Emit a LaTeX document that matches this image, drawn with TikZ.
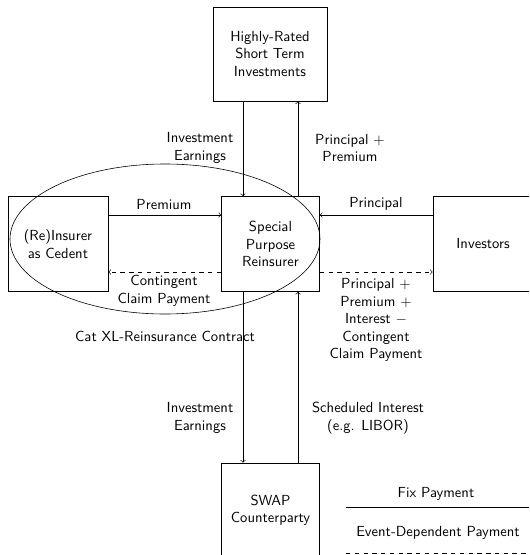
\documentclass[tikz,border=0pt]{standalone}
\usetikzlibrary{shapes.geometric}
\begin{document}
\begin{tikzpicture}[x=0.685pt,y=-0.685pt,
  font=\sffamily,
  box/.style={draw,rectangle,align=center,inner sep=0pt},
  lab/.style={align=center,inner sep=0pt},
  flow/.style={->},
  evflow/.style={->,dashed}]
\useasboundingbox (0,0) rectangle (529,555);
\clip (0,0) rectangle (529,555);
% boxes
\node[box,minimum width=114*0.685pt,minimum height=94*0.685pt] (top) at (270,54) {Highly-Rated\\Short Term\\Investments};
\node[box,minimum width=98*0.685pt,minimum height=95*0.685pt] (spr) at (270.5,244) {Special\\Purpose\\Reinsurer};
\node[box,minimum width=100*0.685pt,minimum height=95*0.685pt] (ced) at (58,244) {(Re)Insurer\\as Cedent};
\node[box,minimum width=100*0.685pt,minimum height=95*0.685pt] (inv) at (483,244) {Investors};
\node[box,minimum width=98*0.685pt,minimum height=95*0.685pt] (swap) at (270.5,510.5) {SWAP\\Counterparty};
% contract ellipse
\node[draw,ellipse,minimum width=310*0.685pt,minimum height=150*0.685pt,inner sep=0pt] (contract) at (165,239) {};
% reference coordinates
\coordinate (xl) at (243,0);
\coordinate (xr) at (298,0);
\coordinate (yt) at (0,215);
\coordinate (yb) at (0,272);
% connectors
\draw[flow] (top.south -| xl) -- (spr.north -| xl);
\draw[flow] (spr.north -| xr) -- (top.south -| xr);
\draw[flow] (spr.south -| xl) -- (swap.north -| xl);
\draw[flow] (swap.north -| xr) -- (spr.south -| xr);
\draw[flow] (ced.east |- yt) -- (spr.west |- yt);
\draw[evflow] (spr.west |- yb) -- (ced.east |- yb);
\draw[flow] (inv.west |- yt) -- (spr.east |- yt);
\draw[evflow] (spr.east |- yb) -- (inv.west |- yb);
% labels
\node[lab] (l1) at (200,148) {Investment\\Earnings};
\node[lab] (l2) at (350,148) {Principal $+$\\Premium};
\node[lab] (l3) at (164,205) {Premium};
\node[lab] (l4) at (164,291) {Contingent\\Claim Payment};
\node[lab] (l5) at (165,336) {Cat XL-Reinsurance Contract};
\node[lab] (l6) at (376,204) {Principal};
\node[lab] (l7) at (376,320) {Principal $+$\\Premium $+$\\Interest $-$\\Contingent\\Claim Payment};
\node[lab] (l8) at (200,418) {Investment\\Earnings};
\node[lab] (l9) at (368,418) {Scheduled Interest\\(e.g. LIBOR)};
% legend
\coordinate (f1) at (346,507);
\coordinate (f2) at (529,507);
\coordinate (e1) at (346,553);
\coordinate (e2) at (529,553);
\draw (f1) -- (f2);
\draw[dashed] (e1) -- (e2);
\node[lab] (lf) at (436,494) {Fix Payment};
\node[lab] (le) at (438,533) {Event-Dependent Payment};
\end{tikzpicture}
\end{document}
